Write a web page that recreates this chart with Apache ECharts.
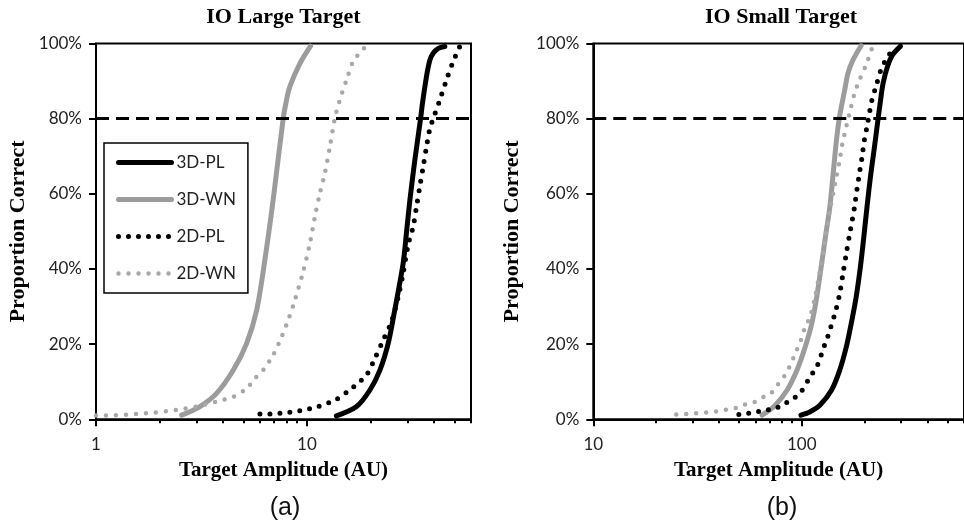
<!DOCTYPE html>
<html>
<head>
<meta charset="utf-8">
<script src="https://cdn.jsdelivr.net/npm/echarts@6/dist/echarts.min.js"></script>
<style>
html,body{margin:0;padding:0;background:#fff;}
#chart{width:964px;height:527px;}
</style>
</head>
<body>
<div id="chart"></div>
<script>
// ---------- Data (amplitude AU, percent correct) ----------
const SERIES_NAMES = ['3D-PL', '3D-WN', '2D-PL', '2D-WN'];
const THRESHOLD = 80;

// IO Large Target
const large3DPL = [[13.8,0.9],[17.2,3.4],[19.9,7.8],[22.2,13.1],[24.3,20.2],[26.1,29.1],[28.6,41.5],[29.7,50],[30.8,58.4],[32.5,69],[34.6,80],[35.3,84],[36.9,91.2],[38.3,95.6],[39.7,97.4],[42.0,98.7],[45.1,99.2]];
const large3DWN = [[2.55,1.1],[3.11,3.4],[3.73,6.9],[4.48,13.1],[5.18,20.2],[5.78,29.1],[6.32,42.4],[6.92,58.4],[7.72,80],[8.01,85],[8.30,88.5],[9.27,94.7],[10.4,99.3]];
const large2DPL = [[5.99,1.4],[6.68,1.4],[7.45,1.6],[8.30,1.9],[9.27,2.3],[11.3,3.4],[13.8,5.3],[16.3,8.2],[17.8,10],[19.2,11.8],[21.0,16.2],[23.0,21.1],[25.2,26],[27.1,32.6],[28.6,38.9],[30.2,46.4],[31.9,51.3],[33.1,56.6],[34.3,61.9],[35.6,67.2],[36.9,72.5],[38.3,77.4],[39.7,80],[42.7,85],[45.9,90.3],[49.4,95.2],[53.1,99.2]];
const large2DWN = [[1.0,1.0],[1.23,1.1],[1.56,1.4],[1.90,1.8],[2.41,2.5],[3.0,3.4],[3.73,4.7],[4.48,6.0],[5.18,8.2],[5.67,10.9],[6.21,13.1],[6.92,17.1],[7.59,22],[8.15,26.4],[8.77,31.7],[9.60,39.3],[10.33,46.8],[10.91,53.9],[11.52,60.1],[12.17,65.5],[12.85,72.5],[13.57,80.1],[14.33,85],[15.42,90.3],[16.57,95.2],[18.97,99.2]];

// IO Small Target
const small3DPL = [[99.1,1.1],[109.7,2.0],[122.4,3.8],[139.0,7.8],[152.1,13.1],[163.6,19.3],[172.7,25.5],[182.4,32.6],[191.5,41.0],[198.5,48.6],[206.0,57.0],[213.5,64.5],[222.0,71.5],[230.5,78.5],[237.5,84.0],[245.5,89.4],[257.5,93.8],[272.0,96.9],[297.7,99.3]];
const small3DWN = [[64.5,1.1],[73.6,3.4],[85.1,7.8],[94.9,13.1],[103.9,19.3],[111.7,25.5],[118.0,32.6],[124.6,41.5],[130.6,49.5],[136.4,56.6],[141.5,65.5],[146.7,74.3],[151.1,79.9],[154.9,83.2],[160.6,87.6],[166.6,92.1],[176.0,95.6],[192.6,99.4]];
const small2DPL = [[49.9,1.3],[55.1,1.6],[61.4,2.0],[68.5,2.5],[74.9,2.9],[83.6,4.3],[91.6,5.6],[99.1,7.3],[109.7,11.3],[118.0,14.0],[122.4,16.2],[126.9,18.9],[131.6,21.1],[136.4,23.8],[140.4,26.0],[145.1,28.6],[152.1,33.5],[157.8,38.9],[163.6,44.2],[169.6,49.2],[174.6,53.0],[179.1,56.6],[183.8,61.0],[189.1,65.5],[194.7,69.9],[199.6,74.3],[205.6,77.9],[210.9,81.4],[217.1,85.0],[226.7,88.5],[239.4,92.9],[252.7,95.6],[269.9,98.0]];
const small2DWN = [[25.0,1.3],[27.8,1.4],[30.8,1.6],[34.4,1.8],[38.3,2.0],[42.7,2.5],[47.6,2.9],[52.2,3.8],[58.2,4.4],[63.7,5.6],[71.0,6.9],[76.3,9.1],[82.1,11.3],[86.7,13.6],[93.2,17.6],[98.4,20.6],[103.9,24.6],[109.7,27.3],[115.8,32.6],[122.4,39.7],[129.2,47.7],[133.5,52.5],[136.4,55.7],[141.5,60.1],[146.7,64.6],[152.1,69.0],[156.6,73.4],[163.6,77.9],[170.9,82.3],[179.1,86.7],[189.1,90.3],[203.4,94.3],[217.1,98.7]];

// Axis ticks / labels
const LARGE_X_MIN = 1, LARGE_X_MAX = 60;
const SMALL_X_MIN = 10, SMALL_X_MAX = 600;
const LARGE_MAJOR = [1, 10];
const LARGE_MINOR = [2,3,4,5,6,7,8,9,20,30,40,50,60];
const SMALL_MAJOR = [10, 100];
const SMALL_MINOR = [20,30,40,50,60,70,80,90,200,300,400,500,600];

// ---------- Styles ----------
const LABEL_FONT = 'Lato';
const SERIF = '"Liberation Serif"';
const styles = {
  '3D-PL': {color: '#000000', width: 5, type: 'solid', cap: 'round'},
  '3D-WN': {color: '#9c9c9c', width: 5, type: 'solid', cap: 'round'},
  '2D-PL': {color: '#000000', width: 5, type: [0, 10], cap: 'round'},
  '2D-WN': {color: '#a8a8a8', width: 4.5, type: [0, 10], cap: 'round'}
};

const grids = [
  {left: 96, top: 43.5, width: 375, height: 375.8},
  {left: 593.3, top: 43.5, width: 376, height: 375.8}
];

function mainXAxis(gridIndex, min, max, major, nameGap) {
  return {
    gridIndex, type: 'log', logBase: 10, min, max,
    axisLine: {show: true, lineStyle: {color: '#000', width: 2}},
    axisTick: {show: true, customValues: major, length: 7, inside: false, lineStyle: {color: '#000', width: 2}},
    axisLabel: {customValues: major, fontFamily: LABEL_FONT, fontSize: 17, color: '#222', margin: 17},
    splitLine: {show: false},
    minorTick: {show: false},
    name: 'Target Amplitude (AU)', nameLocation: 'middle', nameGap: nameGap,
    nameTextStyle: {fontFamily: SERIF, fontWeight: 'bold', fontSize: 21, color: '#000'}
  };
}
function minorXAxis(gridIndex, min, max, minor) {
  return {
    gridIndex, type: 'log', logBase: 10, min, max, position: 'bottom',
    axisLine: {show: false},
    axisTick: {show: true, customValues: minor, length: 4, inside: false, lineStyle: {color: '#000', width: 2}},
    axisLabel: {show: false},
    splitLine: {show: false}
  };
}
function yAxis(gridIndex, nameGap) {
  return {
    gridIndex, type: 'value', min: 0, max: 100, interval: 20,
    axisLine: {show: true, lineStyle: {color: '#000', width: 2}},
    axisTick: {show: true, length: 7, inside: false, lineStyle: {color: '#000', width: 2}},
    axisLabel: {formatter: '{value}%', fontFamily: LABEL_FONT, fontSize: 17, color: '#222', margin: 14},
    splitLine: {show: false},
    name: 'Proportion Correct', nameLocation: 'middle', nameGap: nameGap,
    nameTextStyle: {fontFamily: SERIF, fontWeight: 'bold', fontSize: 22, color: '#000'}
  };
}

function makeSeries(name, data, xIdx, yIdx, withMark) {
  const st = styles[name];
  const s = {
    name, type: 'line', data, xAxisIndex: xIdx, yAxisIndex: yIdx,
    symbol: 'none', showSymbol: false, smooth: 0.3, clip: false,
    lineStyle: {color: st.color, width: st.width, type: st.type, cap: st.cap, join: 'round'},
    itemStyle: {color: st.color},
    z: 3
  };
  if (withMark) {
    s.markLine = {
      silent: true, symbol: ['none', 'none'], label: {show: false},
      lineStyle: {color: '#000', width: 3, type: [13, 7]},
      data: [{yAxis: THRESHOLD}],
      animation: false
    };
  }
  return s;
}

const chart = echarts.init(document.getElementById('chart'), null, {renderer: 'canvas'});
chart.setOption({
  animation: false,
  backgroundColor: '#fff',
  grid: grids.map(g => Object.assign({show: true, borderColor: '#000', borderWidth: 2, backgroundColor: 'transparent', containLabel: false}, g)),
  xAxis: [
    mainXAxis(0, LARGE_X_MIN, LARGE_X_MAX, LARGE_MAJOR, 41),
    minorXAxis(0, LARGE_X_MIN, LARGE_X_MAX, LARGE_MINOR),
    mainXAxis(1, SMALL_X_MIN, SMALL_X_MAX, SMALL_MAJOR, 41),
    minorXAxis(1, SMALL_X_MIN, SMALL_X_MAX, SMALL_MINOR)
  ],
  yAxis: [yAxis(0, 67), yAxis(1, 70)],
  legend: {
    data: SERIES_NAMES, orient: 'vertical', left: 104, top: 143,
    itemWidth: 53, itemHeight: 14, itemGap: 20,
    padding: [11, 12, 11, 12],
    borderColor: '#000', borderWidth: 1.5, backgroundColor: '#fff',
    selectedMode: false,
    textStyle: {fontFamily: LABEL_FONT, fontSize: 17, color: '#222'},
    itemStyle: {opacity: 0, borderWidth: 0},
    lineStyle: {width: 'inherit'}
  },
  graphic: [
    {type: 'text', x: 283.5, y: 17.5, style: {text: 'IO Large Target', font: 'bold 22px "Liberation Serif"', fill: '#000', align: 'center', verticalAlign: 'middle'}},
    {type: 'text', x: 781, y: 17.5, style: {text: 'IO Small Target', font: 'bold 22px "Liberation Serif"', fill: '#000', align: 'center', verticalAlign: 'middle'}},
    {type: 'text', x: 285, y: 508, style: {text: '(a)', font: '25px "Liberation Sans"', fill: '#111', align: 'center', verticalAlign: 'middle'}},
    {type: 'text', x: 782, y: 508, style: {text: '(b)', font: '25px "Liberation Sans"', fill: '#111', align: 'center', verticalAlign: 'middle'}}
  ],
  series: [
    makeSeries('3D-PL', large3DPL, 0, 0, true),
    makeSeries('3D-WN', large3DWN, 0, 0, false),
    makeSeries('2D-PL', large2DPL, 0, 0, false),
    makeSeries('2D-WN', large2DWN, 0, 0, false),
    makeSeries('3D-PL', small3DPL, 2, 1, true),
    makeSeries('3D-WN', small3DWN, 2, 1, false),
    makeSeries('2D-PL', small2DPL, 2, 1, false),
    makeSeries('2D-WN', small2DWN, 2, 1, false)
  ]
});
</script>
</body>
</html>
